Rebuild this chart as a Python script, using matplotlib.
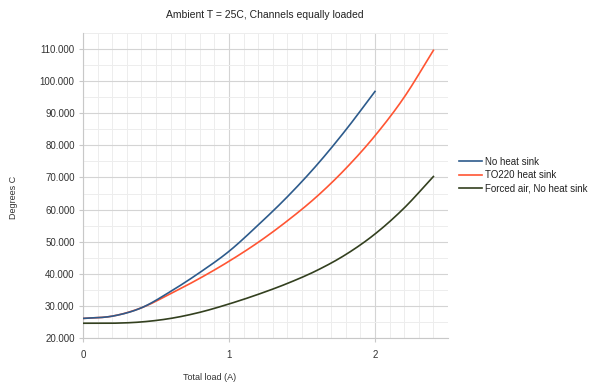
import numpy as np
import matplotlib
matplotlib.use("Agg")
import matplotlib.pyplot as plt
from matplotlib.ticker import MultipleLocator, FuncFormatter

plt.rcParams['font.family'] = ['Liberation Sans', 'DejaVu Sans']

title = "Ambient T = 25C, Channels equally loaded"
x_label = "Total load (A)"
y_label = "Degrees C"
series_names = ["No heat sink", "TO220 heat sink", "Forced air, No heat sink"]

x_nohs = [0.0, 0.2, 0.4, 0.6, 0.8, 1.0, 1.2, 1.4, 1.6, 1.8, 2.0]
no_heat_sink = [26.1, 26.8, 29.4, 34.5, 40.4, 47.0, 55.2, 64.0, 73.8, 84.8, 96.8]

x_full = [0.0, 0.2, 0.4, 0.6, 0.8, 1.0, 1.2, 1.4, 1.6, 1.8, 2.0, 2.2, 2.4]
to220 = [26.1, 26.8, 29.4, 33.8, 38.6, 43.9, 49.8, 56.5, 64.0, 72.8, 83.0, 95.0, 109.6]
forced_air = [24.6, 24.6, 25.0, 26.1, 28.0, 30.6, 33.6, 37.0, 41.0, 46.0, 52.4, 60.5, 70.3]

colors = ["#2d5b8c", "#ff5533", "#33401f"]


def smooth(xs, ys, n=20):
    """Catmull-Rom spline through the data points for display."""
    xs = np.asarray(xs, float)
    ys = np.asarray(ys, float)
    px = np.concatenate([[2 * xs[0] - xs[1]], xs, [2 * xs[-1] - xs[-2]]])
    py = np.concatenate([[2 * ys[0] - ys[1]], ys, [2 * ys[-1] - ys[-2]]])
    ox, oy = [], []
    t = np.linspace(0, 1, n, endpoint=False)
    for i in range(1, len(px) - 2):
        for arr, out in ((px, ox), (py, oy)):
            p0, p1, p2, p3 = arr[i - 1], arr[i], arr[i + 1], arr[i + 2]
            out.extend(0.5 * ((2 * p1) + (-p0 + p2) * t + (2 * p0 - 5 * p1 + 4 * p2 - p3) * t ** 2
                              + (-p0 + 3 * p1 - 3 * p2 + p3) * t ** 3))
    ox.append(xs[-1]); oy.append(ys[-1])
    return np.array(ox), np.array(oy)


fig = plt.figure(figsize=(6.05, 3.83), dpi=100)
ax = fig.add_axes([83 / 605, 1 - 338 / 383, (448 - 83) / 605, (338 - 33) / 383])

sx, sy = smooth(x_full, to220)
ax.plot(sx, sy, color=colors[1], lw=1.2, label=series_names[1], zorder=3)
sx, sy = smooth(x_full, forced_air)
ax.plot(sx, sy, color=colors[2], lw=1.2, label=series_names[2], zorder=3)
sx, sy = smooth(x_nohs, no_heat_sink)
ax.plot(sx, sy, color=colors[0], lw=1.2, label=series_names[0], zorder=4)

ax.set_xlim(0, 2.5)
ax.set_ylim(20, 115)
ax.xaxis.set_major_locator(MultipleLocator(1))
ax.xaxis.set_minor_locator(MultipleLocator(0.1))
ax.yaxis.set_major_locator(MultipleLocator(10))
ax.yaxis.set_minor_locator(MultipleLocator(5))
ax.yaxis.set_major_formatter(FuncFormatter(lambda v, p: f"{v:.3f}" if v <= 110 else ""))
ax.xaxis.set_major_formatter(FuncFormatter(lambda v, p: f"{v:.0f}" if v <= 2 else ""))

ax.grid(which='major', color='#d4d4d4', lw=0.8)
ax.grid(which='minor', color='#ededed', lw=0.7)
ax.set_axisbelow(True)
for s in ax.spines.values():
    s.set_visible(False)
ax.spines['left'].set_visible(True)
ax.spines['bottom'].set_visible(True)
ax.spines['left'].set_color('#c8c8c8')
ax.spines['bottom'].set_color('#c8c8c8')
ax.tick_params(which='major', length=3, color='#c8c8c8', labelsize=7, labelcolor='#333333', pad=3)
ax.tick_params(which='minor', length=0)
ax.tick_params(axis='x', pad=6)

fig.text(265 / 605, 1 - 15 / 383, title, ha='center', va='center', fontsize=7.5, color='#222222')
fig.text(14 / 605, 1 - 197 / 383, y_label, ha='center', va='center', rotation=90, fontsize=6.5, color='#333333')
fig.text(210 / 605, 1 - 377 / 383, x_label, ha='center', va='center', fontsize=6.5, color='#333333')

handles, labels = ax.get_legend_handles_labels()
order = [2, 0, 1]
leg = fig.legend([handles[i] for i in order], [labels[i] for i in order],
                 loc='center left', bbox_to_anchor=(455 / 605, 1 - 175 / 383),
                 frameon=False, fontsize=7, handlelength=2.4, handletextpad=0.3,
                 labelspacing=0.35, borderaxespad=0)
for t in leg.get_texts():
    t.set_color('#222222')

fig.savefig("out.png", dpi=100)
